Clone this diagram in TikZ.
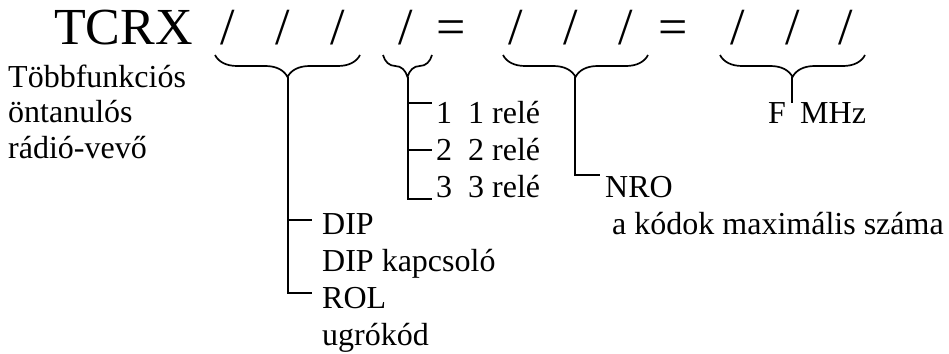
\documentclass[tikz,border=0pt]{standalone}
\usepackage{fontspec}
\setmainfont{Liberation Serif}
\usetikzlibrary{decorations.pathreplacing}
\tikzset{
  big/.style={font=\fontsize{52}{60}\selectfont, inner sep=0pt, anchor=base west},
  txt/.style={font=\fontsize{32}{37}\selectfont, inner sep=0pt, anchor=base west},
  ln/.style={line width=1.7pt},
  brc/.style={line width=1.7pt, decorate, decoration={brace, mirror, amplitude=22pt}},
}
\begin{document}
\begin{tikzpicture}[x=1pt,y=-1pt]
\useasboundingbox (0,0) rectangle (949,353);
% title line
\node[big] (tcrx) at (54,45) {TCRX};
\node[big] (s1) at (220,45) {/};
\node[big] (s2) at (275,45) {/};
\node[big] (s3) at (330,45) {/};
\node[big] (s4) at (398,45) {/};
\node[big] (eq1) at (436,45) {=};
\node[big] (s5) at (508,45) {/};
\node[big] (s6) at (563,45) {/};
\node[big] (s7) at (618,45) {/};
\node[big] (eq2) at (658,45) {=};
\node[big] (s8) at (730,45) {/};
\node[big] (s9) at (785,45) {/};
\node[big] (s10) at (838,45) {/};
% left description
\node[txt] (d1) at (8,87) {Többfunkciós};
\node[txt] (d2) at (8,122) {öntanulós};
\node[txt] (d3) at (8,158) {rádió-vevő};
% braces
\draw[brc] (215,55) -- (360,55);
\draw[brc] (383,55) -- (432,55);
\draw[brc] (503,55) -- (648,55);
\draw[brc] (720,55) -- (865,55);
% brace tips and junctions
\coordinate (b1) at (288,77);
\coordinate (b1d) at (288,220);
\coordinate (b1r) at (288,293);
\coordinate (b1de) at (312,220);
\coordinate (b1re) at (312,293);
\coordinate (b2) at (408,77);
\coordinate (b2a) at (408,103);
\coordinate (b2b) at (408,150);
\coordinate (b2c) at (408,199);
\coordinate (b2ae) at (432,103);
\coordinate (b2be) at (432,150);
\coordinate (b2ce) at (432,199);
\coordinate (b3) at (575,77);
\coordinate (b3n) at (575,175);
\coordinate (b3ne) at (600,175);
\coordinate (b4) at (792,77);
\coordinate (b4e) at (792,103);
% labels
\node[txt] (r1) at (436,123) {1\ \ 1 relé};
\node[txt] (r2) at (436,160) {2\ \ 2 relé};
\node[txt] (r3) at (436,197) {3\ \ 3 relé};
\node[txt] (f) at (768,123) {F};
\node[txt] (mhz) at (800,123) {MHz};
\node[txt] (nro) at (605,197) {NRO};
\node[txt] (nrod) at (612,234) {a kódok maximális száma};
\node[txt] (dip) at (322,234) {DIP};
\node[txt] (dipd) at (322,271) {DIP kapcsoló};
\node[txt] (rol) at (322,308) {ROL};
\node[txt] (rold) at (322,345) {ugrókód};
% connectors
\draw[ln] (b1) -- (b1r) -- (b1re);
\draw[ln] (b1d) -- (b1de);
\draw[ln] (b2) -- (b2c) -- (b2ce);
\draw[ln] (b2a) -- (b2ae);
\draw[ln] (b2b) -- (b2be);
\draw[ln] (b3) -- (b3n) -- (b3ne);
\draw[ln] (b4) -- (b4e);
\end{tikzpicture}
\end{document}
